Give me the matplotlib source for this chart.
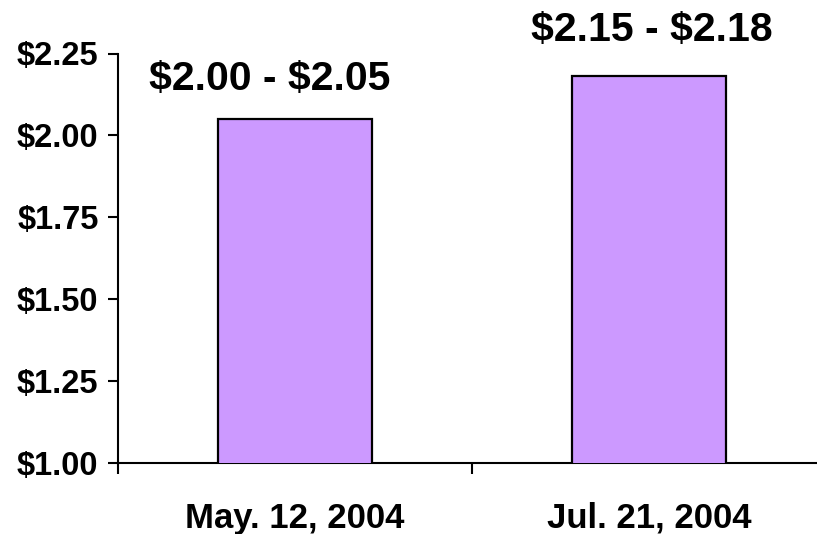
import matplotlib.pyplot as plt

# datos del grafico
dates = ["May. 12, 2004", "Jul. 21, 2004"]
eps_high = [2.05, 2.18]
range_labels = ["$2.00 - $2.05", "$2.15 - $2.18"]
yticks = [1.00, 1.25, 1.50, 1.75, 2.00, 2.25]


def main():
    plt.rcParams["font.family"] = ["Liberation Sans", "DejaVu Sans"]
    plt.rcParams["font.weight"] = "bold"

    fig = plt.figure(figsize=(8.17, 5.34), dpi=100)
    # el eje x se extiende un poco mas alla del borde derecho, como en el original
    ax = fig.add_axes([118 / 817, 71 / 534, 708 / 817, 409.5 / 534])

    x = list(range(len(dates)))
    ax.bar(x, eps_high, width=0.435, bottom=0, color="#CC99FF",
           edgecolor="black", linewidth=1.6, zorder=3)

    ax.set_xlim(-0.5, len(dates) - 0.5)
    ax.set_ylim(1.0, 2.25)

    # ticks en los limites de categoria, etiquetas centradas
    ax.set_xticks([i - 0.5 for i in range(len(dates) + 1)])
    ax.set_xticklabels([])
    ax.set_xticks(x, minor=True)
    ax.set_xticklabels(dates, minor=True, fontsize=25, fontweight="bold")
    ax.tick_params(axis="x", which="major", direction="out", length=8, width=1.5)
    ax.tick_params(axis="x", which="minor", length=0, pad=28)

    ax.set_yticks(yticks)
    ax.set_yticklabels([f"${v:.2f}" for v in yticks], fontsize=23.5,
                       fontweight="bold", parse_math=False)
    ax.tick_params(axis="y", direction="out", length=7, width=1.5, pad=7)

    for side in ["top", "right"]:
        ax.spines[side].set_visible(False)
    for side in ["left", "bottom"]:
        ax.spines[side].set_linewidth(1.5)

    # etiquetas de rango sobre las barras (la primera algo desplazada a la izquierda)
    offsets = [(-25, 40), (3, 46)]
    for xi, yi, lab, off in zip(x, eps_high, range_labels, offsets):
        ax.annotate(lab, (xi, yi), xytext=off, textcoords="offset pixels",
                    ha="center", va="center", fontsize=29.5, fontweight="bold",
                    annotation_clip=False, parse_math=False)

    fig.savefig("out.png", dpi=100)
    plt.close(fig)


if __name__ == "__main__":
    main()
